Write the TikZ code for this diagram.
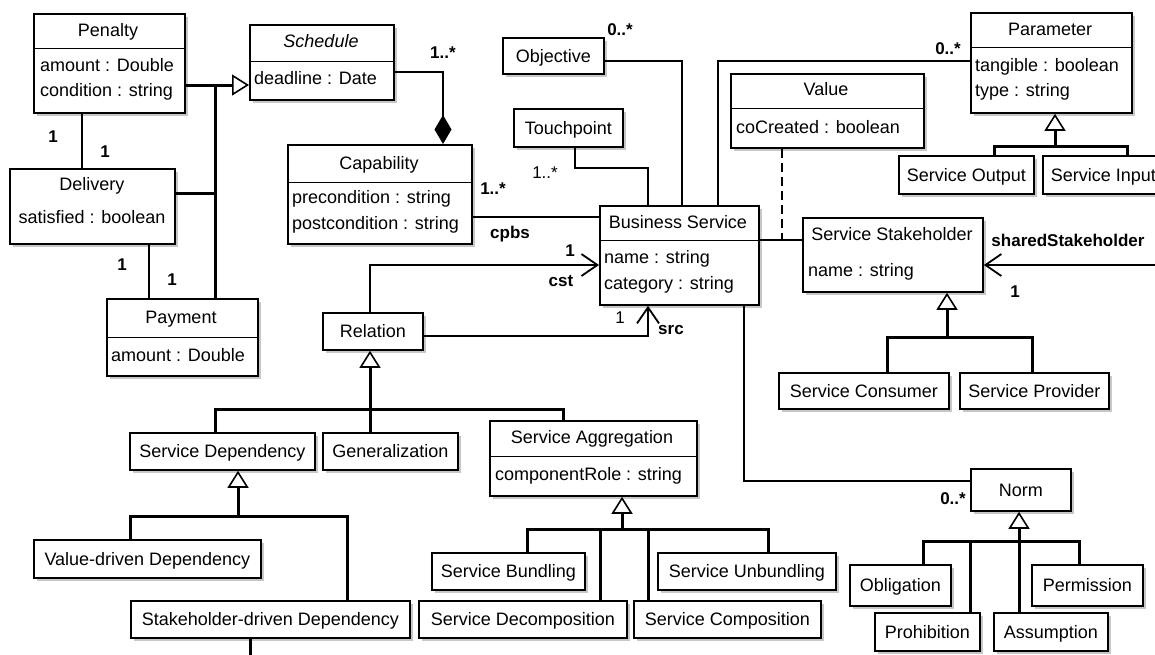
\documentclass[tikz,border=0pt]{standalone}
\usepackage{fontspec}
\setmainfont{Liberation Sans}
\usetikzlibrary{arrows.meta,shadows}

\tikzset{
  cls/.style={draw, line width=1.8pt, fill=white, inner sep=0pt, anchor=north west,
    text height=13pt, text depth=0pt,
    drop shadow={shadow xshift=3pt, shadow yshift=-3pt, fill=black!22, opacity=1}},
  ttl/.style={inner sep=0pt, text height=13pt, text depth=0pt},
  attr/.style={ttl, anchor=west},
  mult/.style={inner sep=0pt, font=\fontsize{17}{20}\selectfont\bfseries},
  multr/.style={inner sep=0pt, font=\fontsize{17}{20}\selectfont},
  sepline/.style={line width=0.9pt},
  tree/.style={line width=3pt},
  assoc/.style={line width=2.8pt},
  link/.style={line width=2pt},
  gen/.style={-{Triangle[open, length=17pt, width=21pt, line width=1.6pt]}},
  nav/.style={-{Straight Barb[length=16pt, width=22pt, line width=1.8pt]}},
}

\begin{document}
\begin{tikzpicture}[x=1pt, y=-1pt, font=\fontsize{18}{21}\selectfont]
%\draw [help lines, step=50] (0,0) grid (1155,654);
\useasboundingbox (0,0) rectangle (1155,654);
\clip (0,0) rectangle (1155,654);

% classes, left part
\node [cls, minimum width=151, minimum height=99] (pen) at (33,13) {};
\node [ttl] (pent) at (108,30) {Penalty};
\draw [sepline] (pen.west |- 0,48) -- (pen.east |- 0,48);
\node [attr] (pena1) at (40,65) {amount : Double};
\node [attr] (pena2) at (40,90) {condition : string};

\node [cls, minimum width=144, minimum height=75] (sch) at (249,24) {};
\node [ttl] (scht) at (321,41) {\itshape Schedule};
\draw [sepline] (sch.west |- 0,61) -- (sch.east |- 0,61);
\node [attr] (scha1) at (254,78) {deadline : Date};

\node [cls, minimum width=165, minimum height=75] (del) at (9,168) {};
\node [ttl] (delt) at (92,184) {Delivery};
\node [ttl] (dela1) at (92,217) {satisfied : boolean};

\node [cls, minimum width=151, minimum height=77] (pay) at (106,298) {};
\node [ttl] (payt) at (181,317) {Payment};
\draw [sepline] (pay.west |- 0,337) -- (pay.east |- 0,337);
\node [attr] (paya1) at (111,355) {amount : Double};

\node [cls, minimum width=184, minimum height=99] (cap) at (287,144) {};
\node [ttl] (capt) at (379,163) {Capability};
\draw [sepline] (cap.west |- 0,182) -- (cap.east |- 0,182);
\node [attr] (capa1) at (292,197) {precondition : string};
\node [attr] (capa2) at (292,223) {postcondition : string};

% middle
\node [cls, minimum width=101, minimum height=36] (obj) at (502,37) {Objective};
\node [cls, minimum width=109, minimum height=38] (tch) at (513,108) {Touchpoint};

\node [cls, minimum width=159, minimum height=99] (bs) at (599,205) {};
\node [ttl] (bst) at (678,222) {Business Service};
\draw [sepline] (bs.west |- 0,240) -- (bs.east |- 0,240);
\node [attr] (bsa1) at (604,257) {name : string};
\node [attr] (bsa2) at (604,283) {category : string};

\node [cls, minimum width=193, minimum height=74] (val) at (730,73) {};
\node [ttl] (valt) at (826,89) {Value};
\draw [sepline] (val.west |- 0,108) -- (val.east |- 0,108);
\node [attr] (vala1) at (736,127) {coCreated : boolean};

% right part
\node [cls, minimum width=161, minimum height=100] (par) at (970,12) {};
\node [ttl] (part) at (1050,29) {Parameter};
\draw [sepline] (par.west |- 0,47) -- (par.east |- 0,47);
\node [attr] (para1) at (975,65) {tangible : boolean};
\node [attr] (para2) at (975,90) {type : string};

\node [cls, minimum width=135, minimum height=38] (sout) at (898,155) {Service Output};
\node [cls, minimum width=121, minimum height=38] (sin) at (1042,155) {Service Input};

\node [cls, minimum width=180, minimum height=74] (stk) at (802,217) {};
\node [ttl] (stkt) at (892,234) {Service Stakeholder};
\node [attr] (stka1) at (808,270) {name : string};

\node [cls, minimum width=170, minimum height=36] (scon) at (778,372) {Service Consumer};
\node [cls, minimum width=149, minimum height=36] (sprov) at (959,372) {Service Provider};

% relations
\node [cls, minimum width=100, minimum height=37] (rel) at (322,312) {Relation};
\node [cls, minimum width=185, minimum height=37] (sdep) at (129,432) {Service Dependency};
\node [cls, minimum width=135, minimum height=37] (gnr) at (322,432) {Generalization};

\node [cls, minimum width=207, minimum height=75] (sagg) at (489,420) {};
\node [ttl] (saggt) at (592,437) {Service Aggregation};
\draw [sepline] (sagg.west |- 0,456) -- (sagg.east |- 0,456);
\node [attr] (sagga1) at (495,474) {componentRole : string};

\node [cls, minimum width=227, minimum height=38] (vdd) at (33,539) {Value-driven Dependency};
\node [cls, minimum width=279, minimum height=37] (sdd) at (130,600) {Stakeholder-driven Dependency};

\node [cls, minimum width=153, minimum height=37] (sbun) at (431,552) {Service Bundling};
\node [cls, minimum width=178, minimum height=37] (sunb) at (657,552) {Service Unbundling};
\node [cls, minimum width=208, minimum height=37] (sdec) at (418,600) {Service Decomposition};
\node [cls, minimum width=187, minimum height=37] (scom) at (633,600) {Service Composition};

% norms
\node [cls, minimum width=100, minimum height=42] (norm) at (970,468) {Norm};
\node [cls, minimum width=101, minimum height=41] (obl) at (849,564) {Obligation};
\node [cls, minimum width=111, minimum height=41] (perm) at (1031,564) {Permission};
\node [cls, minimum width=105, minimum height=38] (proh) at (874,612) {Prohibition};
\node [cls, minimum width=114, minimum height=38] (assm) at (993,612) {Assumption};

% penalty, delivery, payment
\draw [tree, gen] (pen.east |- 0,85) -- (sch.west |- 0,85);
\draw [tree] (del.east |- 0,193) -- (215,193);
\draw [tree] (215,85) -- (pay.north -| 215,0);
\draw [assoc] (pen.south -| 82,0) -- (del.north -| 82,0);
\draw [assoc] (del.south -| 149,0) -- (pay.north -| 149,0);
\node [mult] (lpd1) at (53,137) {1};
\node [mult] (lpd2) at (105,152) {1};
\node [mult] (ldp1) at (122,265) {1};
\node [mult] (ldp2) at (172,280) {1};

\draw [assoc, {Diamond[length=29pt, width=17pt]}-] (cap.north -| 443,0) |- (sch.east |- 0,72);
\node [mult] (lcmp) at (443,53) {1..*};

% business service links
\draw [assoc] (obj.east |- 0,61) -| (bs.north -| 682,0);
\node [mult] (lobj) at (620,30) {0..*};
\draw [assoc] (tch.south -| 575,0) |- (648,168) -- (bs.north -| 648,0);
\node [multr] (ltch) at (545,173) {1..*};
\draw [assoc] (bs.north -| 718,0) |- (par.west |- 0,61);
\node [mult] (lpar) at (948,49) {0..*};

\draw [link] (cap.east |- 0,217) -- (bs.west |- 0,217);
\node [mult] (lcap) at (493,189) {1..*};
\node [mult] (lcpbs) at (510,234) {cpbs};

\draw [link, nav] (rel.north -| 370,0) |- (bs.west |- 0,265);
\node [mult] (lcst1) at (570,251) {1};
\node [mult] (lcst) at (561,281) {cst};
\draw [link, nav] (rel.east |- 0,336) -| (bs.south -| 648,0);
\node [multr] (lsrc1) at (620,318) {1};
\node [mult] (lsrc) at (671,330) {src};

\draw [link] (bs.east |- 0,240) -- (stk.west |- 0,240);
\coordinate (ac) at (782,240);
\draw [assoc, dash pattern=on 9pt off 5pt] (val.south -| ac) -- (ac);

\coordinate (shr) at (1165,265);
\draw [link, nav] (shr) -- (stk.east |- 0,265);
\node [mult] (lshr) at (1068,240) {sharedStakeholder};
\node [mult] (lshr1) at (1015,292) {1};

\draw [link] (bs.south -| 744,0) |- (norm.west |- 0,481);
\node [mult] (lnorm) at (953,499) {0..*};

% generalizations
\draw [tree, gen] (1055,146) -- (par.south -| 1055,0);
\draw [tree] (sout.north -| 994,0) |- (1055,146) -| (sin.north -| 1127,0);

\draw [tree, gen] (947,337) -- (stk.south -| 947,0);
\draw [tree] (scon.north -| 887,0) |- (947,337) -| (sprov.north -| 1032,0);

\draw [tree, gen] (370,409) -- (rel.south -| 370,0);
\draw [tree] (sdep.north -| 215,0) |- (370,409) -| (sagg.north -| 563,0);
\draw [tree] (gnr.north -| 370,0) -- (370,409);

\draw [tree, gen] (238,516) -- (sdep.south -| 238,0);
\draw [tree] (vdd.north -| 130,0) |- (238,516) -| (sdd.north -| 347,0);
\draw [tree] (sdd.south -| 250,0) -- (250,660);

\draw [tree, gen] (622,529) -- (sagg.south -| 622,0);
\draw [tree] (sbun.north -| 527,0) |- (622,529) -| (sunb.north -| 768,0);
\draw [tree] (sdec.north -| 600,0) -- (600,529);
\draw [tree] (scom.north -| 648,0) -- (648,529);

\draw [tree, gen] (assm.north -| 1019,0) -- (norm.south -| 1019,0);
\draw [tree] (obl.north -| 923,0) |- (1019,541) -| (perm.north -| 1079,0);
\draw [tree] (proh.north -| 970,0) -- (970,541);
\end{tikzpicture}
\end{document}
